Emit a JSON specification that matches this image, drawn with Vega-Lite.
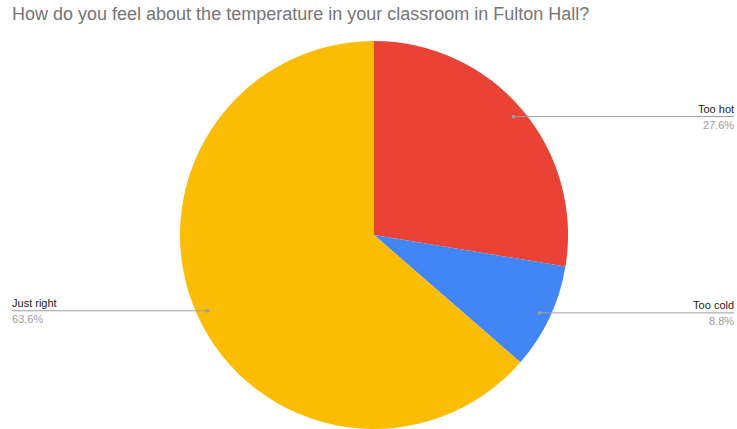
{
  "$schema": "https://vega.github.io/schema/vega-lite/v6.json",
  "width": 737,
  "height": 429,
  "autosize": {"type": "none"},
  "padding": 0,
  "background": "#ffffff",
  "view": {"stroke": null},
  "title": {
    "text": "How do you feel about the temperature in your classroom in Fulton Hall?",
    "anchor": "start",
    "frame": "group",
    "offset": -38,
    "dx": 12,
    "baseline": "alphabetic",
    "font": "Liberation Sans",
    "fontSize": 18,
    "fontWeight": "normal",
    "color": "#757575"
  },
  "data": {
    "values": [
      {"answer": "Too hot", "share": 0.276, "order": 1},
      {"answer": "Too cold", "share": 0.088, "order": 2},
      {"answer": "Just right", "share": 0.636, "order": 3}
    ]
  },
  "transform": [
    {"window": [{"op": "sum", "field": "share", "as": "cum"}], "sort": [{"field": "order"}]},
    {"calculate": "2*PI*(datum.cum - datum.share/2)", "as": "mid"},
    {"calculate": "0.943*sin(datum.mid)", "as": "px"},
    {"calculate": "0.943*cos(datum.mid)", "as": "py"},
    {"calculate": "datum.px > 0 ? 1.856 : -1.866", "as": "lx"}
  ],
  "layer": [
    {
      "mark": {"type": "arc", "outerRadius": 194, "stroke": null},
      "encoding": {
        "x": {"datum": 0, "type": "quantitative", "scale": {"domain": [-1.928, 1.871], "nice": false, "zero": false}, "axis": null},
        "y": {"datum": 0, "type": "quantitative", "scale": {"domain": [-1.0, 1.211], "nice": false, "zero": false}, "axis": null},
        "theta": {"field": "share", "type": "quantitative", "stack": true},
        "order": {"field": "order", "type": "quantitative"},
        "color": {
          "field": "answer",
          "type": "nominal",
          "scale": {"domain": ["Too hot", "Too cold", "Just right"], "range": ["#EA4335", "#4285F4", "#FBBC04"]},
          "legend": null
        }
      }
    },
    {
      "mark": {"type": "rule", "color": "#9e9e9e", "strokeWidth": 1},
      "encoding": {
        "x": {"field": "px", "type": "quantitative"},
        "x2": {"field": "lx"},
        "y": {"field": "py", "type": "quantitative"}
      }
    },
    {
      "mark": {"type": "point", "filled": true, "color": "#9e9e9e", "size": 14, "opacity": 1},
      "encoding": {
        "x": {"field": "px", "type": "quantitative"},
        "y": {"field": "py", "type": "quantitative"}
      }
    },
    {
      "transform": [{"filter": "datum.px > 0"}],
      "layer": [
        {
          "mark": {"type": "text", "align": "right", "baseline": "alphabetic", "dy": -4, "font": "Liberation Sans", "fontSize": 11, "color": "#222222"},
          "encoding": {
            "x": {"field": "lx", "type": "quantitative"},
            "y": {"field": "py", "type": "quantitative"},
            "text": {"field": "answer"}
          }
        },
        {
          "mark": {"type": "text", "align": "right", "baseline": "alphabetic", "dy": 12, "font": "Liberation Sans", "fontSize": 11, "color": "#9e9e9e"},
          "encoding": {
            "x": {"field": "lx", "type": "quantitative"},
            "y": {"field": "py", "type": "quantitative"},
            "text": {"field": "share", "type": "quantitative", "format": ".1%"}
          }
        }
      ]
    },
    {
      "transform": [{"filter": "datum.px < 0"}],
      "layer": [
        {
          "mark": {"type": "text", "align": "left", "baseline": "alphabetic", "dy": -4, "font": "Liberation Sans", "fontSize": 11, "color": "#222222"},
          "encoding": {
            "x": {"field": "lx", "type": "quantitative"},
            "y": {"field": "py", "type": "quantitative"},
            "text": {"field": "answer"}
          }
        },
        {
          "mark": {"type": "text", "align": "left", "baseline": "alphabetic", "dy": 12, "font": "Liberation Sans", "fontSize": 11, "color": "#9e9e9e"},
          "encoding": {
            "x": {"field": "lx", "type": "quantitative"},
            "y": {"field": "py", "type": "quantitative"},
            "text": {"field": "share", "type": "quantitative", "format": ".1%"}
          }
        }
      ]
    }
  ]
}
